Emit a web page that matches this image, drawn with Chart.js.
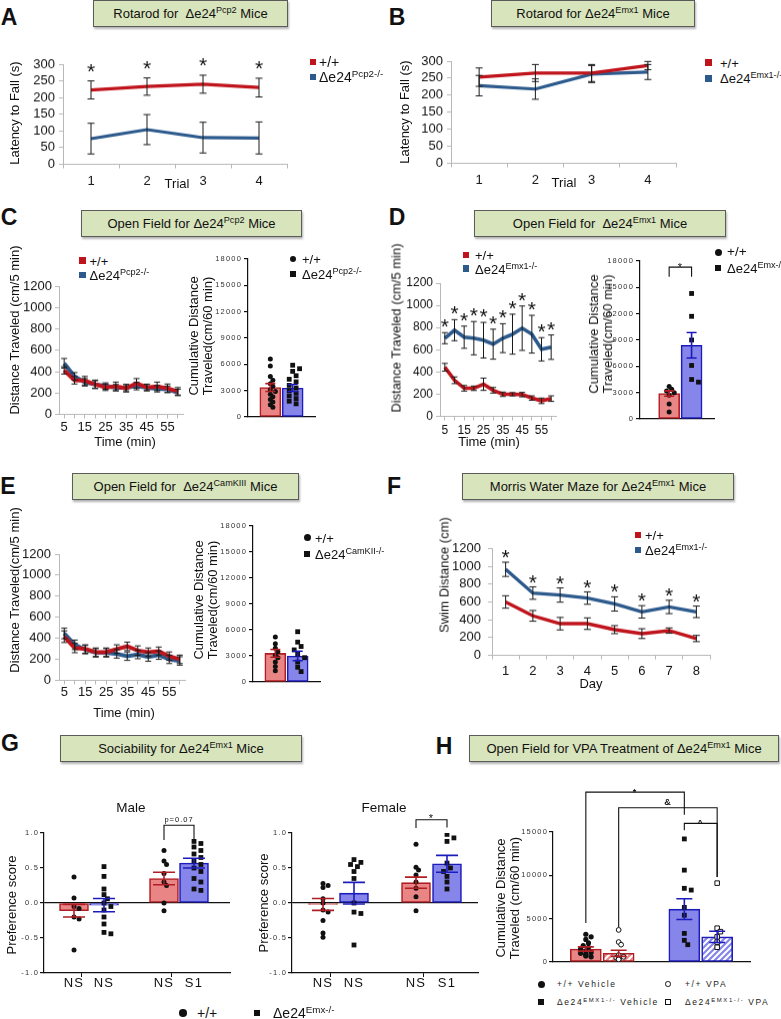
<!DOCTYPE html>
<html>
<head>
<meta charset="utf-8">
<title>Δe24 behaviour panels</title>
<script src="https://cdn.jsdelivr.net/npm/chart.js@4.4.1/dist/chart.umd.min.js"></script>
<style>
  html, body { margin: 0; padding: 0; background: #fff; }
  #fig { position: relative; width: 781px; height: 1019px; overflow: hidden; font-family: "Liberation Sans", Arial, sans-serif; color: #111; }
  #fig canvas { position: absolute; }
  .t { position: absolute; white-space: nowrap; line-height: 1; }
  sup { font-size: 70%; line-height: 0; position: relative; top: -0.5em; vertical-align: baseline; }
  .box { position: absolute; box-sizing: border-box; background: #d8e4bc; border: 1.5px solid #5b5b5b; box-shadow: 1px 2px 2px rgba(0,0,0,.3); display: flex; align-items: center; justify-content: center; font-size: 13px; white-space: nowrap; }
  .let { font-weight: bold; font-size: 23px; }
  .mk { position: absolute; box-sizing: border-box; }
  .pr { font-size: 8.5px; letter-spacing: 1.6px; color: #222; }
</style>
</head>
<body>
<div id="fig"></div>
<script>
// ---------- data ----------
// A: rotarod, Pcp2
const trials = ['1', '2', '3', '4'];
const rotaPcpWT = [223, 233, 240, 230];
const rotaPcpWTErr = [27, 26, 27, 28];
const rotaPcpKO = [77, 104, 80, 79];
const rotaPcpKOErr = [46, 45, 46, 48];

// B: rotarod, Emx1
const rotaEmxWT = [253, 265, 265, 287];
const rotaEmxWTErr = [27, 25, 25, 12];
const rotaEmxKO = [228, 218, 262, 268];
const rotaEmxKOErr = [30, 30, 25, 22];

// C, D, E: open field, 5 min bins
const timeBins = ['5', '10', '15', '20', '25', '30', '35', '40', '45', '50', '55', '60'];

const ofPcpWT = [412, 319, 315, 281, 253, 262, 244, 290, 253, 262, 244, 216];
const ofPcpWTErr = [35, 35, 40, 40, 30, 40, 35, 45, 30, 40, 40, 35];
const ofPcpKO = [478, 356, 300, 280, 265, 250, 250, 265, 250, 240, 235, 205];
const ofPcpKOErr = [45, 35, 35, 35, 30, 30, 30, 35, 30, 30, 30, 30];
const cumPcpMean = [3350, 3300];
const cumPcpErr = [450, 400];
const cumPcpWTDots = [6600, 5800, 4600, 4200, 3800, 3500, 3100, 2900, 2600, 2300, 2000, 1700, 1400, 1100];
const cumPcpKODots = [5900, 5500, 5200, 4700, 4300, 4000, 3600, 3300, 3000, 2700, 2400, 2100, 1800, 1500];

const ofEmxWT = [442, 325, 253, 253, 289, 235, 199, 199, 196, 165, 140, 160];
const ofEmxWTErr = [35, 30, 25, 20, 55, 25, 20, 15, 20, 20, 25, 25];
const ofEmxKO = [704, 776, 713, 704, 686, 650, 704, 740, 794, 740, 604, 623];
const ofEmxKOErr = [50, 95, 100, 150, 160, 135, 130, 180, 200, 170, 105, 110];
const cumEmxMean = [2900, 8400];
const cumEmxErr = [300, 1450];
const cumEmxWTDots = [3700, 3400, 3200, 3000, 2700, 1700, 800];
const cumEmxKODots = [14300, 11700, 9000, 6100, 4500, 4200];

const ofCamWT = [415, 308, 298, 268, 268, 298, 323, 283, 268, 277, 230, 200];
const ofCamWTErr = [55, 45, 40, 40, 40, 40, 40, 45, 40, 40, 40, 40];
const ofCamKO = [446, 338, 292, 262, 262, 252, 230, 246, 222, 240, 200, 185];
const ofCamKOErr = [50, 45, 40, 40, 40, 40, 40, 40, 40, 40, 40, 40];
const cumCamMean = [3300, 3000];
const cumCamErr = [450, 550];
const cumCamWTDots = [5200, 4400, 3900, 3500, 3100, 2800, 2300, 1800, 1300];
const cumCamKODots = [5800, 4600, 4100, 3700, 3200, 2800, 2300, 1700, 1200];

// F: Morris water maze
const days = ['1', '2', '3', '4', '5', '6', '7', '8'];
const mwmWT = [600, 444, 356, 356, 289, 244, 278, 189];
const mwmWTErr = [70, 60, 70, 65, 45, 55, 30, 35];
const mwmKO = [967, 700, 678, 644, 578, 489, 544, 489];
const mwmKOErr = [80, 70, 80, 70, 80, 70, 75, 65];

// G: sociability
const socLabels = ['NS', 'NS', 'NS', 'S1'];
const socMaleMean = [-0.11, -0.03, 0.35, 0.57];
const socMaleErr = [0.09, 0.095, 0.09, 0.07];
const socMaleDots = [
  [0.37, 0.07, -0.05, -0.08, -0.2, -0.23, -0.67],
  [0.52, 0.38, 0.2, 0.12, 0.06, 0.0, -0.05, -0.1, -0.2, -0.3, -0.42, -0.44],
  [0.75, 0.6, 0.55, 0.42, 0.3, 0.25, 0.0, -0.11],
  [0.88, 0.85, 0.8, 0.75, 0.7, 0.65, 0.6, 0.55, 0.5, 0.45, 0.35, 0.3, 0.2, 0.18]
];
const socFemaleMean = [-0.02, 0.14, 0.29, 0.56];
const socFemaleErr = [0.085, 0.155, 0.08, 0.12];
const socFemaleDots = [
  [0.28, 0.25, 0.22, 0.06, 0.0, -0.1, -0.13, -0.25, -0.43, -0.49],
  [0.62, 0.58, 0.55, 0.52, 0.45, 0.35, 0.0, -0.13, -0.15, -0.6],
  [0.84, 0.51, 0.47, 0.4, 0.3, 0.21, 0.09, -0.11],
  [0.98, 0.93, 0.88, 0.57, 0.5, 0.45, 0.38, 0.3, 0.2]
];

// H: VPA treatment
const vpaGroups = ['+/+ Vehicle', '+/+ VPA', 'Δe24EMX1-/- Vehicle', 'Δe24EMX1-/- VPA'];
const vpaMean = [1500, 1000, 6100, 2900];
const vpaErr = [250, 350, 1200, 650];
const vpaDots = [
  [3200, 2900, 2600, 2200, 1900, 1700, 1500, 1300, 1100, 1000, 900, 800, 700, 600],
  [3700, 2300, 2000, 800, 600, 500, 400, 300, 300],
  [14200, 10600, 8500, 8300, 6300, 5400, 3300, 2500, 2000],
  [9100, 3900, 3500, 2900, 2300, 1700]
];

// ---------- helpers ----------
const fig = document.getElementById('fig');
const AX = '#b8b8b8';
const RED = '#c0141c', BLUE = '#2c5a8c';
const PR_RED = '#e98585', PR_RED_EDGE = '#b01e23';
const PR_BLUE = '#8585ea', PR_BLUE_EDGE = '#1c1cbd';
Chart.defaults.font.family = '"Liberation Sans", Arial, sans-serif';
Chart.defaults.color = '#111';

function T(x, y, html, css, anchor, rot) {
  const d = document.createElement('div');
  d.className = 't';
  d.innerHTML = html;
  if (css) d.style.cssText += css;
  d.style.left = x + 'px';
  d.style.top = y + 'px';
  const tx = anchor === 'l' ? '0' : anchor === 'r' ? '-100%' : '-50%';
  d.style.transform = 'translate(' + tx + ',-50%)' + (rot ? ' rotate(-90deg)' : '');
  fig.appendChild(d);
  return d;
}
function box(x, y, w, h, html) {
  const d = document.createElement('div');
  d.className = 'box';
  d.style.cssText += 'left:' + x + 'px;top:' + y + 'px;width:' + w + 'px;height:' + h + 'px';
  d.innerHTML = '<span>' + html + '</span>';
  fig.appendChild(d);
}
function mark(x, y, s, color, shape, open) {
  const d = document.createElement('div');
  d.className = 'mk';
  d.style.cssText += 'left:' + (x - s / 2) + 'px;top:' + (y - s / 2) + 'px;width:' + s + 'px;height:' + s + 'px;' +
    (open ? 'border:1.2px solid ' + color + ';background:#fff;' : 'background:' + color + ';') +
    (shape === 'circle' ? 'border-radius:50%;' : '');
  fig.appendChild(d);
}
function mount(plot, yw, xh, padTop) {
  const [l, t, r, b] = plot;
  const left = l - yw - 4, top = t - padTop;
  const w = r + 14 - left, h = b + xh + 4 - top;
  const cv = document.createElement('canvas');
  cv.width = w; cv.height = h;
  cv.style.left = left + 'px'; cv.style.top = top + 'px';
  cv.style.width = w + 'px'; cv.style.height = h + 'px';
  fig.appendChild(cv);
  return { cv, padding: { left: 4, top: padTop, right: 14, bottom: 4 } };
}
function hatch(color) {
  const c = document.createElement('canvas');
  c.width = c.height = 6;
  const g = c.getContext('2d');
  g.fillStyle = '#fff'; g.fillRect(0, 0, 6, 6);
  g.strokeStyle = color; g.lineWidth = 2.2;
  g.beginPath();
  g.moveTo(-1, 7); g.lineTo(7, -1);
  g.moveTo(-4, 4); g.lineTo(4, -4);
  g.moveTo(2, 10); g.lineTo(10, 2);
  g.stroke();
  return g.createPattern(c, 'repeat');
}

// error bars from dataset.err, drawn through the y scale
const errorBars = {
  id: 'errorBars',
  afterDatasetsDraw(chart) {
    const ctx = chart.ctx, ys = chart.scales.y;
    chart.data.datasets.forEach((ds, i) => {
      if (!ds.err) return;
      chart.getDatasetMeta(i).data.forEach((el, j) => {
        const raw = ds.data[j], v = typeof raw === 'object' ? raw.y : raw;
        const top = ys.getPixelForValue(v + ds.err[j]);
        const bot = ys.getPixelForValue(v - ds.err[j]);
        ctx.save();
        ctx.strokeStyle = Array.isArray(ds.errColor) ? ds.errColor[j] : ds.errColor;
        ctx.lineWidth = ds.errWidth;
        ctx.beginPath();
        ctx.moveTo(el.x, top); ctx.lineTo(el.x, bot);
        ctx.moveTo(el.x - ds.cap, top); ctx.lineTo(el.x + ds.cap, top);
        ctx.moveTo(el.x - ds.cap, bot); ctx.lineTo(el.x + ds.cap, bot);
        ctx.stroke();
        ctx.restore();
      });
    });
  }
};

// significance stars above the highest error bar at each x
function starPlugin(gap, size) {
  return {
    id: 'stars',
    afterDatasetsDraw(chart) {
      const ctx = chart.ctx, ys = chart.scales.y;
      const sets = chart.data.datasets;
      ctx.save();
      ctx.fillStyle = '#111';
      ctx.font = size + 'px "Liberation Sans", Arial';
      ctx.textAlign = 'center';
      ctx.textBaseline = 'alphabetic';
      chart.getDatasetMeta(0).data.forEach((el, j) => {
        const top = Math.min(...sets.map(ds => ys.getPixelForValue(ds.data[j] + ds.err[j])));
        ctx.fillText('*', el.x, top - gap + 0.575 * size);
      });
      ctx.restore();
    }
  };
}

// comparison brackets in data units
function bracketPlugin(list, font) {
  return {
    id: 'brackets',
    afterDraw(chart) {
      const ctx = chart.ctx, xs = chart.scales.x, ys = chart.scales.y;
      ctx.save();
      ctx.strokeStyle = '#111'; ctx.fillStyle = '#111'; ctx.lineWidth = 1.1;
      ctx.font = font;
      ctx.letterSpacing = '1px';
      ctx.textAlign = 'center'; ctx.textBaseline = 'alphabetic';
      list.forEach(b => {
        const x1 = xs.getPixelForValue(b.x1), x2 = xs.getPixelForValue(b.x2), y = ys.getPixelForValue(b.y);
        ctx.beginPath();
        ctx.moveTo(x1, ys.getPixelForValue(b.l1)); ctx.lineTo(x1, y);
        ctx.lineTo(x2, y); ctx.lineTo(x2, ys.getPixelForValue(b.l2));
        ctx.stroke();
        ctx.fillText(b.label, (x1 + x2) / 2, y + b.dy);
      });
      ctx.restore();
    }
  };
}

// spread overlapping dots sideways, Prism style
const swarm = {
  id: 'swarm',
  afterDatasetsUpdate(chart) {
    chart.data.datasets.forEach((ds, i) => {
      if (ds.type !== 'scatter') return;
      const d = ds.pointRadius * 1.45;
      const done = [];
      chart.getDatasetMeta(i).data.slice().sort((a, b) => a.y - b.y).forEach(p => {
        const x0 = p.x;
        for (const k of [0, 1, -1, 2, -2]) {
          const x = x0 + k * d * 0.7;
          if (done.every(q => Math.hypot(q.x - x, q.y - p.y) >= d)) { p.x = x; break; }
        }
        done.push({ x: p.x, y: p.y });
      });
    });
  }
};

const spaced = {
  id: 'spaced',
  beforeDraw(chart) { chart.ctx.letterSpacing = '1.2px'; },
  afterDraw(chart) { chart.ctx.letterSpacing = '0px'; }
};

function lineChart(plot, labels, series, o) {
  const yw = 45, fs = o.fs || 13, xh = 4 + o.xpad + fs + 3;
  const { cv, padding } = mount(plot, yw, xh, o.padTop || 12);
  const plugins = [errorBars];
  if (o.stars) plugins.push(starPlugin(o.stars[0], o.stars[1]));
  return new Chart(cv, {
    type: 'line',
    data: {
      labels,
      datasets: series.map((s, i) => ({
        data: s.data, err: s.err, borderColor: s.color, backgroundColor: s.color,
        borderWidth: o.lw, pointRadius: 0, tension: 0, fill: false,
        errColor: '#1a1a1a', errWidth: 1, cap: o.cap, order: i
      }))
    },
    options: {
      responsive: false, animation: false, events: [],
      layout: { autoPadding: false, padding },
      plugins: { legend: { display: false }, tooltip: { enabled: false } },
      scales: {
        x: {
          offset: true,
          grid: { offset: !!o.gridOffset, drawOnChartArea: false, color: AX, tickLength: 4 },
          border: { color: AX },
          ticks: {
            autoSkip: false, maxRotation: 0, padding: o.xpad, color: '#111',
            font: { size: fs, lineHeight: 1 },
            callback: (v, i) => (o.every && i % o.every) ? '' : labels[i]
          },
          afterFit: s => { s.height = xh; }
        },
        y: {
          min: o.min, max: o.max,
          grid: { drawOnChartArea: false, color: AX, tickLength: 4 },
          border: { color: AX },
          ticks: { stepSize: o.step, padding: o.ypad, color: '#111', font: { size: fs, lineHeight: 1 }, callback: v => String(v) },
          afterFit: s => { s.width = yw; }
        }
      }
    },
    plugins
  });
}

function barChart(plot, o) {
  const yw = 40, xh = o.xlabels ? 22 : 2;
  const { cv, padding } = mount(plot, yw, xh, o.padTop || 12);
  const datasets = [{
    type: 'bar', order: 3,
    data: o.x.map((x, i) => ({ x, y: o.mean[i] })),
    backgroundColor: o.fill, borderColor: o.edge, borderWidth: 1.6, borderSkipped: false,
    barThickness: o.barW, err: o.err, errColor: o.edge, errWidth: 1.6, cap: o.cap
  }];
  o.dots.forEach((vals, i) => {
    const st = o.dotStyle[i];
    datasets.push({
      type: 'scatter', order: 1,
      data: vals.map(v => ({ x: o.x[i], y: v })),
      pointStyle: st.shape, pointRadius: st.r,
      backgroundColor: st.open ? '#fff' : '#111', borderColor: '#111', borderWidth: st.open ? 1 : 0
    });
  });
  const plugins = [swarm, spaced, errorBars];
  if (o.brackets) plugins.push(bracketPlugin(o.brackets, o.bfont));
  return new Chart(cv, {
    type: 'bar',
    data: { datasets },
    options: {
      responsive: false, animation: false, events: [],
      layout: { autoPadding: false, padding },
      plugins: { legend: { display: false }, tooltip: { enabled: false } },
      scales: {
        x: {
          type: 'linear', min: o.xmin, max: o.xmax, offset: false,
          grid: {
            display: !!o.xlabels, drawOnChartArea: false, tickLength: 4,
            color: c => (c.tick && c.tick.value % 1) ? '#111' : 'rgba(0,0,0,0)'
          },
          border: { color: '#111', width: 1.2 },
          ticks: {
            display: !!o.xlabels, autoSkip: false, maxRotation: 0, padding: 0, color: '#111',
            font: { size: 13, lineHeight: 1 },
            callback: v => { const k = o.x.indexOf(v); return k >= 0 && o.xlabels ? o.xlabels[k] : ''; }
          },
          afterBuildTicks: s => { if (o.tickPos) s.ticks = o.tickPos.map(v => ({ value: v })); },
          afterFit: s => { s.height = xh; }
        },
        y: {
          min: o.min, max: o.max,
          grid: {
            drawOnChartArea: !!o.zeroLine, tickLength: 4, tickColor: '#111', lineWidth: 1.2,
            color: c => (o.zeroLine && c.tick && c.tick.value === 0) ? '#111' : 'rgba(0,0,0,0)'
          },
          border: { color: '#111', width: 1.2 },
          ticks: {
            stepSize: o.step, padding: o.ypad, color: '#333', font: { size: 7.5, lineHeight: 1 },
            callback: o.ycb || (v => String(v))
          },
          afterFit: s => { s.width = yw; }
        }
      }
    },
    plugins
  });
}

const dotPair = [{ shape: 'circle', r: 2.5 }, { shape: 'rect', r: 3.4 }];

// ---------- A ----------
lineChart([63, 64, 287, 164], trials, [
  { data: rotaPcpWT, err: rotaPcpWTErr, color: RED },
  { data: rotaPcpKO, err: rotaPcpKOErr, color: BLUE }
], { min: 0, max: 300, step: 50, gridOffset: true, lw: 3.2, cap: 3.5, xpad: 6.5, ypad: 4, padTop: 28, stars: [15, 21] });

// ---------- B ----------
lineChart([451, 61, 676, 163], trials, [
  { data: rotaEmxWT, err: rotaEmxWTErr, color: RED },
  { data: rotaEmxKO, err: rotaEmxKOErr, color: BLUE }
], { min: 0, max: 300, step: 50, gridOffset: true, lw: 3.2, cap: 3.5, xpad: 6.5, ypad: 4 });

// ---------- C ----------
lineChart([59, 286, 183, 414], timeBins, [
  { data: ofPcpWT, err: ofPcpWTErr, color: RED },
  { data: ofPcpKO, err: ofPcpKOErr, color: BLUE }
], { min: 0, max: 1200, step: 200, lw: 4, cap: 3, xpad: 2.5, ypad: 3, every: 2 });

barChart([248, 259, 315, 417], {
  x: [1, 2], xmin: 0, xmax: 3, mean: cumPcpMean, err: cumPcpErr,
  fill: [PR_RED, PR_BLUE], edge: [PR_RED_EDGE, PR_BLUE_EDGE], barW: 21, cap: 5,
  dots: [cumPcpWTDots, cumPcpKODots], dotStyle: dotPair,
  min: 0, max: 18000, step: 3000, ypad: 2
});

// ---------- D ----------
lineChart([440, 283, 556, 416], timeBins, [
  { data: ofEmxWT, err: ofEmxWTErr, color: RED },
  { data: ofEmxKO, err: ofEmxKOErr, color: BLUE }
], { min: 0, max: 1200, step: 200, lw: 3.6, cap: 3, xpad: 4.5, ypad: 3, every: 2, fs: 12, stars: [11, 21] });

barChart([640, 261, 714, 419], {
  x: [1, 2], xmin: -0.3, xmax: 3, mean: cumEmxMean, err: cumEmxErr,
  fill: [PR_RED, PR_BLUE], edge: [PR_RED_EDGE, PR_BLUE_EDGE], barW: 21, cap: 5,
  dots: [cumEmxWTDots, cumEmxKODots], dotStyle: dotPair,
  min: 0, max: 18000, step: 3000, ypad: 2,
  brackets: [{ x1: 1, x2: 2, y: 17300, l1: 16200, l2: 16200, label: '*', dy: 4 }],
  bfont: '11px "Liberation Sans", Arial'
});

// ---------- E ----------
lineChart([59, 554, 185, 680], timeBins, [
  { data: ofCamWT, err: ofCamWTErr, color: RED },
  { data: ofCamKO, err: ofCamKOErr, color: BLUE }
], { min: 0, max: 1200, step: 200, lw: 4, cap: 3, xpad: 1.5, ypad: 4, every: 2 });

barChart([253, 526, 320, 682], {
  x: [1, 2], xmin: 0, xmax: 3, mean: cumCamMean, err: cumCamErr,
  fill: [PR_RED, PR_BLUE], edge: [PR_RED_EDGE, PR_BLUE_EDGE], barW: 21, cap: 5,
  dots: [cumCamWTDots, cumCamKODots], dotStyle: dotPair,
  min: 0, max: 18000, step: 3000, ypad: 2
});

// ---------- F ----------
lineChart([492, 547, 710, 655], days, [
  { data: mwmWT, err: mwmWTErr, color: RED },
  { data: mwmKO, err: mwmKOErr, color: BLUE }
], { min: 0, max: 1200, step: 200, gridOffset: true, lw: 3.4, cap: 3.5, xpad: 5.5, ypad: 7, stars: [10, 21] });

// ---------- G ----------
const socFill = [PR_RED, PR_BLUE, PR_RED, PR_BLUE];
const socEdge = [PR_RED_EDGE, PR_BLUE_EDGE, PR_RED_EDGE, PR_BLUE_EDGE];
const socStyle = [dotPair[0], dotPair[1], dotPair[0], dotPair[1]];
barChart([44, 833, 230, 973], {
  x: [1, 2, 4, 5], xmin: 0, xmax: 6.2, mean: socMaleMean, err: socMaleErr,
  fill: socFill, edge: socEdge, barW: 29, cap: 11,
  dots: socMaleDots, dotStyle: socStyle,
  min: -1, max: 1, step: 0.5, ypad: 1, zeroLine: true, ycb: v => v.toFixed(1),
  xlabels: socLabels, tickPos: [1, 1.5, 2, 4, 4.5, 5], padTop: 24,
  brackets: [{ x1: 4, x2: 5, y: 1.11, l1: 0.9, l2: 0.9, label: 'p=0.07', dy: -3 }],
  bfont: '7.5px "Liberation Sans", Arial'
});
barChart([292, 833, 478, 973], {
  x: [1, 2, 4, 5], xmin: 0, xmax: 6, mean: socFemaleMean, err: socFemaleErr,
  fill: socFill, edge: socEdge, barW: 29, cap: 11,
  dots: socFemaleDots, dotStyle: socStyle,
  min: -1, max: 1, step: 0.5, ypad: 1, zeroLine: true, ycb: v => v.toFixed(1),
  xlabels: socLabels, tickPos: [1, 1.5, 2, 4, 4.5, 5], padTop: 24,
  brackets: [{ x1: 4, x2: 5, y: 1.19, l1: 1.07, l2: 1.08, label: '*', dy: 2 }],
  bfont: '11px "Liberation Sans", Arial'
});

// ---------- H ----------
barChart([553, 832, 750, 962], {
  x: [1, 2, 4, 5], xmin: 0, xmax: 6, mean: vpaMean, err: vpaErr,
  fill: [PR_RED, hatch(PR_RED), PR_BLUE, hatch(PR_BLUE)],
  edge: [PR_RED_EDGE, PR_RED_EDGE, PR_BLUE_EDGE, PR_BLUE_EDGE], barW: 31, cap: 8,
  dots: vpaDots,
  dotStyle: [{ shape: 'circle', r: 2.6 }, { shape: 'circle', r: 2.4, open: true },
             { shape: 'rect', r: 3.4 }, { shape: 'rect', r: 3.2, open: true }],
  min: 0, max: 15000, step: 5000, ypad: 1, padTop: 56,
  brackets: [
    { x1: 1, x2: 4, y: 19600, l1: 4500, l2: 17000, label: '*', dy: 3 },
    { x1: 2, x2: 5, y: 17800, l1: 4000, l2: 9800, label: '&', dy: -3 },
    { x1: 4, x2: 5, y: 16000, l1: 15200, l2: 9800, label: '^', dy: 3 }
  ],
  bfont: 'bold 9px "Liberation Sans", Arial'
});

// ---------- text: letters, title boxes, axis titles, legends ----------
T(9, 16.5, 'A', '', 'c').className += ' let';
T(397, 16.5, 'B', '', 'c').className += ' let';
T(9, 217, 'C', '', 'c').className += ' let';
T(397, 217, 'D', '', 'c').className += ' let';
T(8, 486, 'E', '', 'c').className += ' let';
T(394, 486, 'F', '', 'c').className += ' let';
T(10, 743, 'G', '', 'c').className += ' let';
T(444, 746, 'H', '', 'c').className += ' let';

box(93, 0, 195, 27, 'Rotarod for&nbsp; Δe24<sup>Pcp2</sup>&nbsp;Mice');
box(491, 0, 204, 27, 'Rotarod for Δe24<sup>Emx1</sup>&nbsp;Mice');
box(81, 210, 221, 27, 'Open Field for Δe24<sup>Pcp2</sup>&nbsp;Mice');
box(474, 210, 252, 27, 'Open Field for&nbsp; Δe24<sup>Emx1</sup>&nbsp;Mice');
box(72, 473, 227, 27, 'Open Field for&nbsp; Δe24<sup>CamKIII</sup>&nbsp;Mice');
box(462, 473, 272, 27, 'Morris Water Maze for Δe24<sup>Emx1</sup>&nbsp;Mice');
box(60, 735, 242, 27, 'Sociability for Δe24<sup>Emx1</sup>&nbsp;Mice');
box(469, 735, 310, 27, 'Open Field for VPA Treatment of Δe24<sup>Emx1</sup>&nbsp;Mice');

const ax13 = 'font-size:13px;';
const two = 'font-size:13px;line-height:14px;text-align:center;';
// A, B
T(13.5, 113, 'Latency to Fall (s)', ax13, 'c', true);
T(177, 183, 'Trial', ax13, 'c');
T(403.5, 112, 'Latency to Fall (s)', ax13, 'c', true);
T(564, 182, 'Trial', ax13, 'c');
mark(312.5, 62, 6, RED); T(319, 62, '+/+', 'font-size:14px;', 'l');
mark(312.5, 77, 6, BLUE); T(319, 77, 'Δe24<sup>Pcp2-/-</sup>', 'font-size:14px;', 'l');
mark(708, 62.5, 7, RED); T(720, 62.5, '+/+', 'font-size:13px;', 'l');
mark(708, 78, 7, BLUE); T(720, 78, 'Δe24<sup>Emx1-/-</sup>', 'font-size:13px;', 'l');
// C
T(14, 330, 'Distance Traveled (cm/5 min)', ax13, 'c', true);
T(125, 441, 'Time (min)', ax13, 'c');
mark(82.5, 260.5, 6.5, RED); T(89.5, 260.5, '+/+', ax13, 'l');
mark(82.5, 275, 6.5, BLUE); T(89.5, 275, 'Δe24<sup>Pcp2-/-</sup>', ax13, 'l');
T(201, 336, 'Cumulative Distance<br>Traveled(cm/60 min)', two, 'c', true);
mark(293, 259, 6.5, '#111', 'circle'); T(302, 259, '+/+', ax13, 'l');
mark(293, 274, 6, '#111'); T(302, 274, 'Δe24<sup>Pcp2-/-</sup>', ax13, 'l');
// D
T(396, 328, 'Distance Traveled (cm/5 min)', ax13, 'c', true);
T(489, 441, 'Time (min)', ax13, 'c');
mark(466, 255, 6.5, RED); T(475, 255, '+/+', ax13, 'l');
mark(466, 268.5, 6.5, BLUE); T(475, 268.5, 'Δe24<sup>Emx1-/-</sup>', ax13, 'l');
T(601, 334, 'Cumulative Distance<br>Traveled(cm/60 min)', two, 'c', true);
mark(718, 252, 7, '#111', 'circle'); T(727, 252, '+/+', 'font-size:13.5px;', 'l');
mark(718, 268, 6.5, '#111'); T(727, 268, 'Δe24<sup>Emx-/-</sup>', 'font-size:13px;', 'l');
// E
T(14, 590, 'Distance Traveled(cm/5 min)', ax13, 'c', true);
T(124, 712, 'Time (min)', ax13, 'c');
T(206, 600, 'Cumulative Distance<br>Traveled(cm/60 min)', two, 'c', true);
mark(307, 537.5, 7, '#111', 'circle'); T(315, 537.5, '+/+', ax13, 'l');
mark(307, 554, 6.5, '#111'); T(315, 554, 'Δe24<sup>CamKII-/-</sup>', ax13, 'l');
// F
T(444, 575, 'Swim Distance (cm)', ax13, 'c', true);
T(591, 683, 'Day', ax13, 'c');
mark(637.5, 535, 6, RED); T(645, 535, '+/+', ax13, 'l');
mark(637.5, 549.5, 6, BLUE); T(645, 549.5, 'Δe24<sup>Emx1-/-</sup>', ax13, 'l');
// G
T(131, 808, 'Male', 'font-size:13.5px;', 'c');
T(384, 808, 'Female', 'font-size:13.5px;', 'c');
T(11, 905, 'Preference score', ax13, 'c', true);
T(262.5, 903, 'Preference score', ax13, 'c', true);
mark(183, 1013, 7.5, '#111', 'circle'); T(197, 1013, '+/+', 'font-size:14px;', 'l');
mark(257, 1013, 6.5, '#111'); T(273, 1013, 'Δe24<sup>Emx-/-</sup>', 'font-size:14px;', 'l');
// H
T(508, 898, 'Cumulative Distance<br>Traveled (cm/60 min)', two, 'c', true);
mark(541, 984, 7, '#111', 'circle'); T(557, 984, vpaGroups[0], '', 'l').className += ' pr';
mark(668, 984, 5.5, '#111', 'circle', true); T(685, 984, vpaGroups[1], '', 'l').className += ' pr';
mark(541, 1002, 6.5, '#111'); T(557, 1002, 'Δe24<sup>EMX1-/-</sup> Vehicle', '', 'l').className += ' pr';
mark(668, 1002, 5.5, '#111', 'rect', true); T(685, 1002, 'Δe24<sup>EMX1-/-</sup> VPA', '', 'l').className += ' pr';
</script>
</body>
</html>
